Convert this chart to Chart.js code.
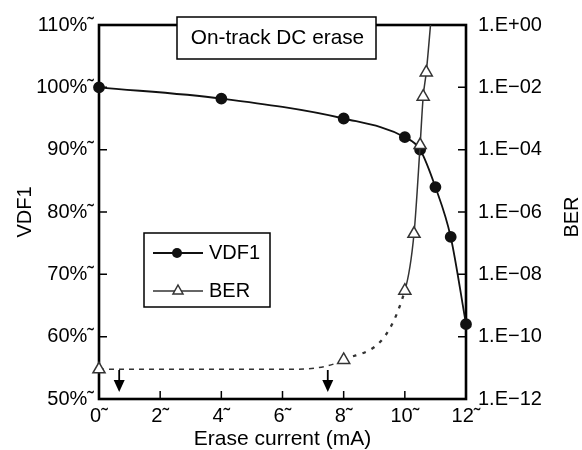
<!DOCTYPE html>
<html>
<head>
<meta charset="utf-8">
<script src="https://cdn.jsdelivr.net/npm/chart.js@4"></script>
<style>
html, body { margin: 0; padding: 0; background: #fff; }
</style>
</head>
<body>
<canvas id="canvas" width="582" height="450"></canvas>
<script>
"use strict"

// erase current (mA) against VDF1 and bit error rate
const vdfCurrent = [0, 4, 8, 10, 10.5, 11, 11.5, 12];
const vdfValues = [100, 98.2, 95, 92, 90, 84, 76, 62];
const berCurrent = [0, 6.3, 8, 10, 10.3, 10.5, 10.6, 10.7, 10.9];
const berValues = [9e-12, 9e-12, 1.8e-11, 3e-9, 2e-7, 1.4e-4, 5e-3, 3e-2, 5];
// 6.3 mA is only a bend of the dashed floor line, no measurement marker
const berMarked = [true, false, true, true, true, true, true, true, true];

const currentTicks = [0, 2, 4, 6, 8, 10, 12];
const vdfTicks = [50, 60, 70, 80, 90, 100, 110];
const berTicks = [1e-12, 1e-10, 1e-8, 1e-6, 1e-4, 1e-2, 1];

// currents marked with down arrows
const arrowCurrents = [0.66, 7.48];

const FONT = '20px "Liberation Sans", Arial, sans-serif';
Chart.defaults.font.family = '"Liberation Sans", Arial, sans-serif';
Chart.defaults.font.size = 20;
Chart.defaults.color = '#000';

function berLabel(v){
    let e = Math.round(Math.log10(v));
    return '1.E' + (e < 0 ? '\u2212' : '+') + String(Math.abs(e)).padStart(2, '0');
}

function toPoints(xs, ys){
    return xs.map((x, i) => ({x: x, y: ys[i]}));
}

function fixTicks(list){
    return scale => { scale.ticks = list.map(v => ({value: v})); };
}

const decor = {
    id: 'decor',
    beforeDatasetsDraw(chart){
        const {ctx, chartArea: a, scales} = chart;
        ctx.save();
        ctx.strokeStyle = '#000';
        ctx.lineWidth = 2.6;
        ctx.strokeRect(a.left, a.top, a.right - a.left, a.bottom - a.top);
        // tick marks point into the plot
        ctx.lineWidth = 1.5;
        ctx.beginPath();
        scales.x.ticks.forEach(t => {
            let px = scales.x.getPixelForValue(t.value);
            ctx.moveTo(px, a.bottom); ctx.lineTo(px, a.bottom - 8);
        });
        scales.y.ticks.forEach(t => {
            let py = scales.y.getPixelForValue(t.value);
            ctx.moveTo(a.left, py); ctx.lineTo(a.left + 8, py);
        });
        scales.y2.ticks.forEach(t => {
            let py = scales.y2.getPixelForValue(t.value);
            ctx.moveTo(a.right, py); ctx.lineTo(a.right - 8, py);
        });
        ctx.stroke();
        ctx.restore();
    },
    afterDraw(chart){
        const {ctx, chartArea: a, scales} = chart;
        ctx.save();
        ctx.font = FONT;
        ctx.textBaseline = 'middle';
        ctx.fillStyle = '#000';
        ctx.strokeStyle = '#000';

        // title box over the top edge
        ctx.lineWidth = 1.5;
        ctx.fillStyle = '#fff';
        ctx.fillRect(177, 17, 199, 42);
        ctx.strokeRect(177, 17, 199, 42);
        ctx.fillStyle = '#000';
        ctx.textAlign = 'center';
        ctx.font = '20.8px "Liberation Sans", Arial, sans-serif';
        ctx.fillText('On-track DC erase', 277.5, 38);
        ctx.font = FONT;

        // legend
        ctx.fillStyle = '#fff';
        ctx.fillRect(144, 233, 126, 74);
        ctx.strokeRect(144, 233, 126, 74);
        ctx.textAlign = 'left';
        ctx.fillStyle = '#000';
        ctx.strokeStyle = '#111';
        ctx.lineWidth = 1.8;
        ctx.beginPath(); ctx.moveTo(153, 253); ctx.lineTo(203, 253); ctx.stroke();
        ctx.fillStyle = '#111';
        ctx.beginPath(); ctx.arc(177, 253, 5, 0, Math.PI * 2); ctx.fill();
        ctx.fillStyle = '#000';
        ctx.fillText('VDF1', 209, 253);
        ctx.strokeStyle = '#333';
        ctx.lineWidth = 1.5;
        ctx.beginPath(); ctx.moveTo(153, 291); ctx.lineTo(203, 291); ctx.stroke();
        ctx.fillStyle = '#fff';
        ctx.beginPath();
        ctx.moveTo(178, 285); ctx.lineTo(183, 294); ctx.lineTo(173, 294); ctx.closePath();
        ctx.fill(); ctx.stroke();
        ctx.fillStyle = '#000';
        ctx.fillText('BER', 209, 291);

        // down arrows
        ctx.strokeStyle = '#000';
        ctx.lineWidth = 1.8;
        arrowCurrents.forEach(c => {
            let px = scales.x.getPixelForValue(c);
            ctx.beginPath();
            ctx.moveTo(px, a.bottom - 29); ctx.lineTo(px, a.bottom - 15);
            ctx.stroke();
            ctx.beginPath();
            ctx.moveTo(px - 5.5, a.bottom - 19); ctx.lineTo(px + 5.5, a.bottom - 19);
            ctx.lineTo(px, a.bottom - 7); ctx.closePath();
            ctx.fill();
        });

        // right axis title reads bottom to top
        ctx.translate(572, 217);
        ctx.rotate(-Math.PI / 2);
        ctx.textAlign = 'center';
        ctx.fillText('BER', 0, 0);
        ctx.restore();
    }
};

let ctx = document.getElementById('canvas').getContext('2d');
let myChart = new Chart(ctx, {
    type: 'line',
    data: {
        datasets: [{
            label: 'BER',
            data: toPoints(berCurrent, berValues),
            yAxisID: 'y2',
            order: 0,
            borderColor: '#333',
            borderWidth: 1.5,
            cubicInterpolationMode: 'monotone',
            pointStyle: 'triangle',
            pointRadius: c => berMarked[c.dataIndex] ? 7 : 0,
            pointBackgroundColor: '#fff',
            pointBorderColor: '#333',
            pointBorderWidth: 1.5,
            clip: {left: 12, right: 12, top: 0, bottom: 12},
            segment: {
                borderDash: c => berCurrent[c.p1DataIndex] <= 8 ? [5, 5] : (berCurrent[c.p1DataIndex] <= 10 ? [3.5, 6.5] : undefined),
                borderWidth: c => berCurrent[c.p1DataIndex] <= 8 ? 1.5 : (berCurrent[c.p1DataIndex] <= 10 ? 2.3 : undefined)
            }
        }, {
            label: 'VDF1',
            data: toPoints(vdfCurrent, vdfValues),
            yAxisID: 'y',
            order: 1,
            borderColor: '#111',
            borderWidth: 1.8,
            cubicInterpolationMode: 'monotone',
            pointStyle: 'circle',
            pointRadius: 5,
            pointBackgroundColor: '#111',
            pointBorderColor: '#111',
            clip: false
        }]
    },
    options: {
        responsive: false,
        animation: false,
        layout: {padding: {top: 25, left: 0, right: 0, bottom: 0}},
        plugins: {
            legend: {display: false},
            tooltip: {enabled: false}
        },
        scales: {
            x: {
                type: 'linear',
                min: 0,
                max: 12,
                afterBuildTicks: fixTicks(currentTicks),
                afterFit: s => { s.height = 51; },
                grid: {display: false, drawTicks: false},
                border: {display: false},
                ticks: {
                    autoSkip: false,
                    maxRotation: 0,
                    padding: 5,
                    callback: v => v + '\u02DC'
                },
                title: {
                    display: true,
                    text: 'Erase current (mA)',
                    font: {size: 21, lineHeight: 1},
                    padding: {top: 0, bottom: 0}
                }
            },
            y: {
                type: 'linear',
                position: 'left',
                min: 50,
                max: 110,
                afterBuildTicks: fixTicks(vdfTicks),
                afterFit: s => { s.width = 99; },
                grid: {display: false, drawTicks: false},
                border: {display: false},
                ticks: {
                    autoSkip: false,
                    padding: 5,
                    callback: v => v + '%\u02DC'
                },
                title: {
                    display: true,
                    text: 'VDF1',
                    font: {size: 20, lineHeight: 1.2},
                    padding: {top: 13, bottom: 0}
                }
            },
            y2: {
                type: 'logarithmic',
                position: 'right',
                min: 1e-12,
                max: 1,
                afterBuildTicks: fixTicks(berTicks),
                afterFit: s => { s.width = 116; },
                grid: {display: false, drawTicks: false},
                border: {display: false},
                ticks: {
                    autoSkip: false,
                    padding: 12,
                    callback: v => berLabel(v)
                }
            }
        }
    },
    plugins: [decor]
});
</script>
</body>
</html>
